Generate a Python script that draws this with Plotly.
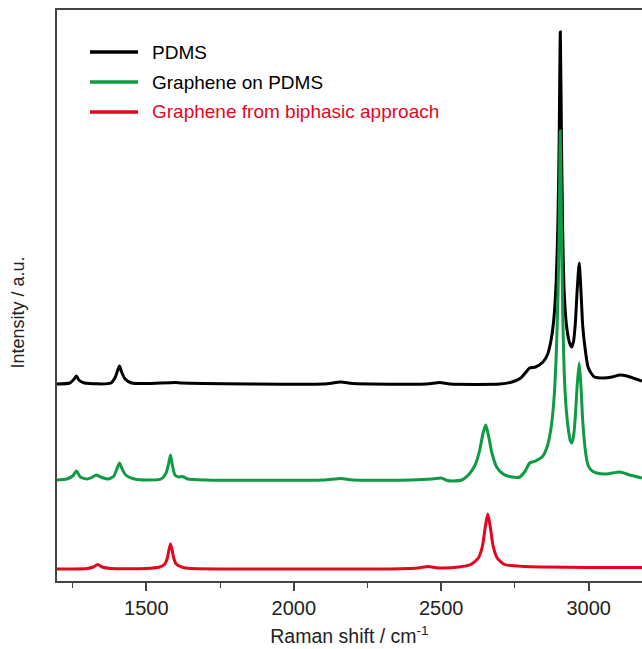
import plotly.graph_objects as go

# ---- data (Raman shift in cm^-1, intensity in a.u., offset stacked) ----
series_names = ["PDMS", "Graphene on PDMS", "Graphene from biphasic approach"]

pdms_x = [1197, 1240, 1255, 1263, 1271, 1290, 1380, 1395, 1403, 1409, 1416, 1428, 1450, 1500,
          1600, 1620, 2100, 2160, 2200, 2450, 2495, 2530, 2700, 2740, 2770, 2785, 2800, 2820,
          2845, 2860, 2872, 2882, 2890, 2896, 2900, 2904, 2908, 2912, 2917, 2924, 2932, 2938,
          2943, 2949, 2955, 2961, 2968, 2974, 2980, 2990, 2998, 3008, 3020, 3050, 3080, 3106,
          3130, 3160, 3181]
pdms_y = [197, 198, 202, 205, 201, 198, 198, 204, 211, 215, 209, 202, 198, 197.5,
          198.5, 198, 197, 199, 197.5, 197, 198.5, 197, 197, 199, 203, 208, 213, 214,
          219, 226, 240, 262, 300, 360, 440, 549, 440, 350, 290, 258, 242, 236,
          234, 240, 258, 290, 318, 290, 255, 228, 214, 208, 204, 203, 204, 206,
          205, 202, 200]

gpdms_x = [1197, 1230, 1250, 1263, 1276, 1300, 1318, 1330, 1345, 1370, 1390, 1400, 1409, 1418,
           1430, 1460, 1500, 1550, 1567, 1576, 1582, 1588, 1597, 1610, 1623, 1640, 1700, 2100,
           2160, 2200, 2400, 2470, 2500, 2520, 2540, 2570, 2595, 2615, 2630, 2642, 2651, 2660,
           2672, 2688, 2710, 2740, 2766, 2785, 2800, 2820, 2845, 2860, 2872, 2882, 2890, 2896,
           2900, 2904, 2908, 2912, 2917, 2924, 2932, 2938, 2943, 2949, 2955, 2961, 2968, 2974,
           2980, 2990, 2998, 3008, 3027, 3060, 3106, 3140, 3181]
gpdms_y = [101, 102, 105, 110, 104, 102, 104, 106, 104, 102, 105, 112, 118, 112,
           106, 102, 101, 102, 108, 118, 126, 116, 106, 104, 104.5, 102, 101, 101,
           102.5, 101, 101, 102, 103, 100.5, 100, 101, 107, 116, 130, 148, 156, 146,
           128, 114, 107, 104, 104, 110, 118, 120, 125, 135, 152, 180, 225, 285,
           350, 450, 350, 270, 210, 172, 150, 140, 138, 145, 165, 195, 218, 195,
           160, 128, 116, 111, 108, 107, 109, 106, 103]

gbi_x = [1197, 1250, 1300, 1320, 1335, 1350, 1380, 1500, 1542, 1562, 1571, 1577, 1582, 1587,
         1593, 1602, 1622, 1650, 2000, 2300, 2420, 2455, 2490, 2560, 2600, 2626, 2640, 2650,
         2658, 2666, 2676, 2690, 2715, 2780, 2850, 3000, 3181]
gbi_y = [12, 12, 12.5, 14, 16.5, 14, 12.5, 12.5, 13.7, 16.7, 22.8, 31.5, 37, 31.5,
         22.8, 16.7, 13.7, 12.5, 12, 12, 13, 14.5, 13, 14, 16.5, 23, 35, 55,
         67, 55, 35, 23, 16.5, 14.5, 14, 13.5, 13.5]

x_ticks = [1500, 2000, 2500, 3000]
x_range = [1197, 3181]
y_range = [0, 571]

colors = ["#000000", "#0f9a44", "#e3061f"]
text_colors = ["#000000", "#000000", "#e3061f"]
FONT = "Liberation Sans, Arial"

fig = go.Figure()
for name, xs, ys, c in zip(series_names, [pdms_x, gpdms_x, gbi_x], [pdms_y, gpdms_y, gbi_y], colors):
    fig.add_trace(go.Scatter(x=xs, y=ys, mode="lines", name=name, showlegend=False,
                             line=dict(color=c, width=3, shape="spline", smoothing=0.6)))

# custom legend (line samples + coloured labels)
leg_y = [0.9264, 0.8739, 0.8214]
for name, c, tc, yy in zip(series_names, colors, text_colors, leg_y):
    fig.add_shape(type="line", xref="paper", yref="paper", x0=0.0564, x1=0.1385, y0=yy, y1=yy,
                  line=dict(color=c, width=3.5))
    fig.add_annotation(xref="paper", yref="paper", x=0.1585, y=yy, text=name, showarrow=False,
                       xanchor="left", yanchor="middle",
                       font=dict(family=FONT, size=19, color=tc))

# y-axis title placed as in the reference
fig.add_annotation(xref="paper", yref="paper", x=-0.0667, y=0.47, text="Intensity / a.u.",
                   textangle=-90, showarrow=False, xanchor="center", yanchor="middle",
                   font=dict(family=FONT, size=18, color="#222222"))

fig.update_layout(
    width=642, height=649,
    margin=dict(l=57, r=0, t=10, b=68),
    paper_bgcolor="white", plot_bgcolor="white",
    font=dict(family=FONT, color="#222222"),
)
fig.update_xaxes(
    range=x_range, tickvals=x_ticks, ticktext=[str(t) for t in x_ticks],
    showgrid=False, zeroline=False, showline=True, linecolor="#444444", linewidth=1.5,
    mirror=True, ticks="outside", ticklen=8, tickwidth=1.5, tickcolor="#444444",
    tickfont=dict(size=20, color="#222222"),
    minor=dict(dtick=250, tick0=1250, ticks="outside", ticklen=5, tickwidth=1.2, tickcolor="#444444"),
    title=dict(text="Raman shift / cm<sup>-1</sup>", font=dict(size=19.5, color="#222222"), standoff=12),
)
fig.update_yaxes(
    range=y_range, showticklabels=False, ticks="", showgrid=False, zeroline=False,
    showline=True, linecolor="#444444", linewidth=1.5, mirror=False,
)

fig.write_html("out.html")
